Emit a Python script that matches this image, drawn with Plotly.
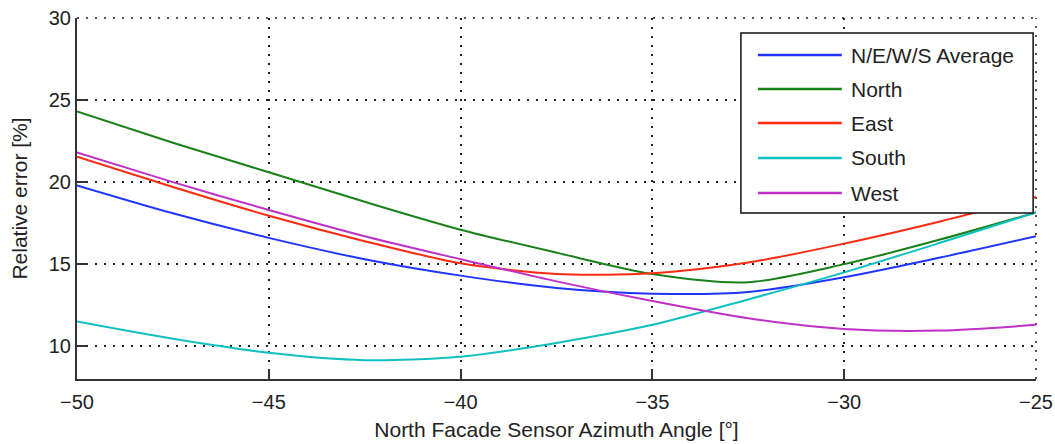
import plotly.graph_objects as go

angle = [-50, -47.5, -45, -42.5, -40, -37.5, -35, -32.5, -30, -27.5, -25]
avg = [19.8, 18.1, 16.6, 15.3, 14.3, 13.55, 13.2, 13.3, 14.2, 15.4, 16.7]
north = [24.3, 22.4, 20.6, 18.8, 17.1, 15.7, 14.4, 13.9, 15.0, 16.5, 18.15]
east = [21.55, 19.7, 17.95, 16.4, 15.05, 14.4, 14.45, 15.1, 16.25, 17.6, 19.1]
south = [11.5, 10.45, 9.6, 9.15, 9.35, 10.2, 11.3, 12.85, 14.5, 16.3, 18.15]
west = [21.8, 20.0, 18.3, 16.7, 15.3, 13.95, 12.75, 11.7, 11.05, 10.95, 11.3]

names = ["N/E/W/S Average", "North", "East", "South", "West"]
colors = ["#1f35ff", "#1a801a", "#ff2a10", "#10bfbf", "#bf30c8"]
values = [avg, north, east, south, west]

x_ticks = [-50, -45, -40, -35, -30, -25]
x_labels = ["\u221250", "\u221245", "\u221240", "\u221235", "\u221230", "\u221225"]
y_ticks = [10, 15, 20, 25, 30]

fig = go.Figure()
for name, vals, col in zip(names, values, colors):
    fig.add_trace(go.Scatter(x=angle, y=vals, name=name, mode="lines", showlegend=False,
                             line=dict(color=col, width=2, shape="spline", smoothing=0.8)))

font = "Liberation Sans, Arial, sans-serif"
grid_dash = "2px,7px"
axis_common = dict(
    showline=True, linecolor="#333", linewidth=2, mirror=False,
    ticks="inside", ticklen=10, tickwidth=1.5, tickcolor="#333",
    showgrid=True, gridcolor="#222", gridwidth=1.5, griddash=grid_dash,
    zeroline=False, automargin=False, ticklabeloverflow="allow",
    tickfont=dict(size=20, color="#222", family=font),
)
fig.update_xaxes(range=[-50, -25], tickvals=x_ticks, ticktext=x_labels, ticklabelstandoff=4,
                 title=dict(text="North Facade Sensor Azimuth Angle [°]",
                            font=dict(size=21, color="#222", family=font), standoff=10),
                 **axis_common)
fig.update_yaxes(range=[8, 30], tickvals=y_ticks,
                 title=dict(text="Relative error [%]",
                            font=dict(size=21, color="#222", family=font), standoff=15),
                 **axis_common)

# dotted grid at the top and right borders (MATLAB box-off look)
fig.add_shape(type="line", xref="paper", yref="paper", x0=0, x1=1, y0=1, y1=1,
              line=dict(color="#222", width=1.5, dash=grid_dash), layer="below")
fig.add_shape(type="line", xref="paper", yref="paper", x0=1, x1=1, y0=0, y1=1,
              line=dict(color="#222", width=1.5, dash=grid_dash), layer="below")

# legend box
fig.add_shape(type="rect", xref="paper", yref="paper", x0=0.6923, x1=0.9970, y0=0.4598, y1=0.9584,
              line=dict(color="#111", width=1.5), fillcolor="white", layer="above")
row_y = [0.8975, 0.8033, 0.7091, 0.6122, 0.5152]
for name, col, ry in zip(names, colors, row_y):
    fig.add_shape(type="line", xref="paper", yref="paper", x0=0.710, x1=0.7975, y0=ry, y1=ry,
                  line=dict(color=col, width=2.5), layer="above")
    fig.add_annotation(xref="paper", yref="paper", x=0.8050, y=ry, text=name, showarrow=False,
                       xanchor="left", yanchor="middle",
                       font=dict(size=21, color="#222", family=font))

fig.update_layout(
    width=1055, height=444,
    margin=dict(l=77, r=19, t=18, b=65),
    paper_bgcolor="white", plot_bgcolor="white",
    font=dict(family=font, color="#222"),
    showlegend=False,
)
fig.write_html("out.html")
